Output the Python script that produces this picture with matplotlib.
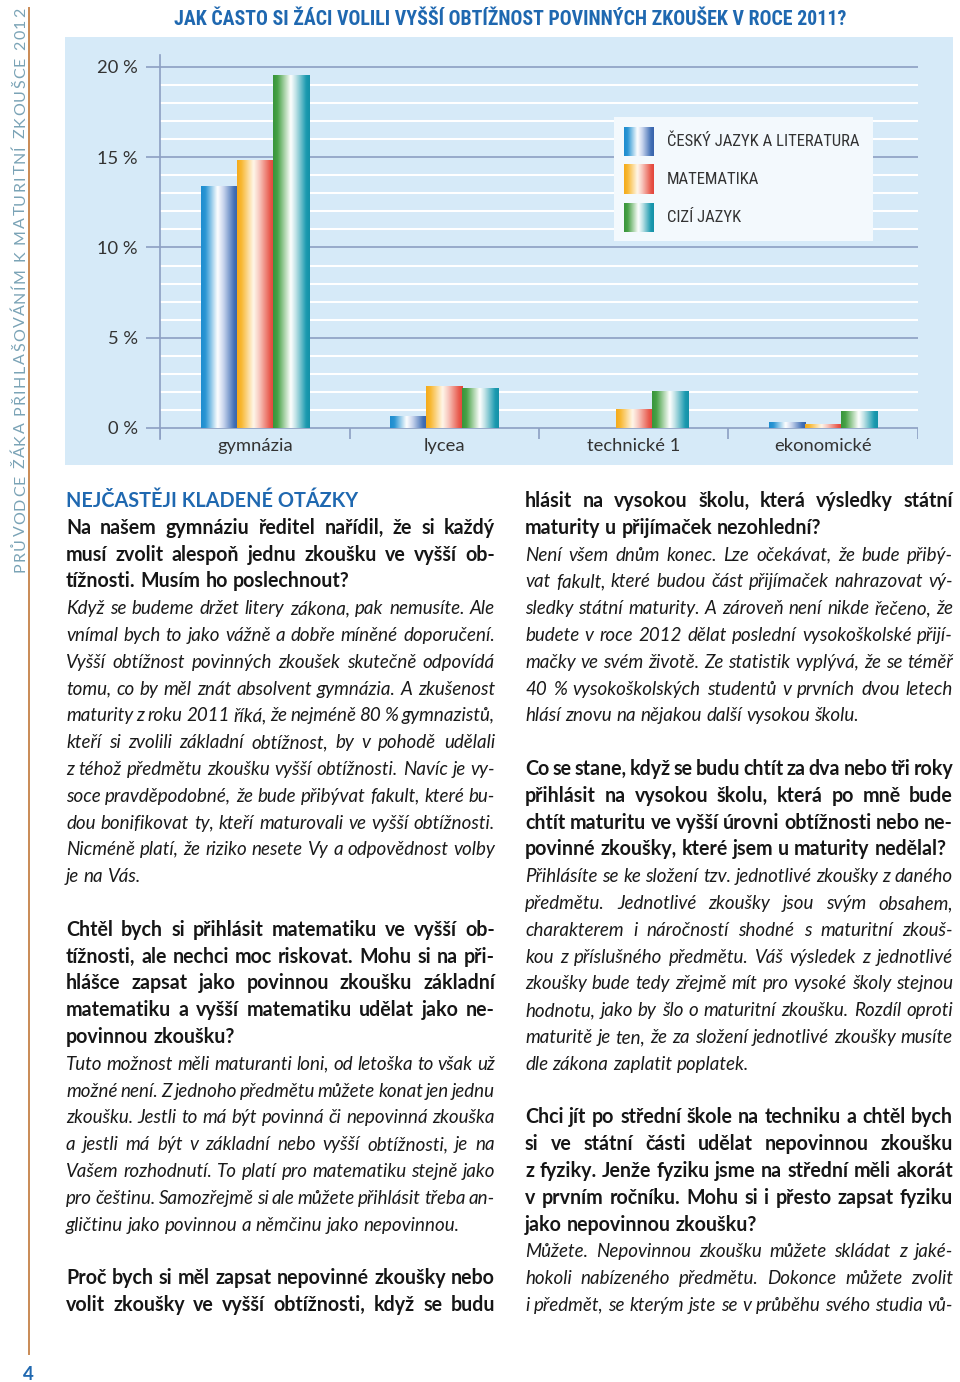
import numpy as np
import matplotlib
matplotlib.use('Agg')
from matplotlib import pyplot as plt
from matplotlib import font_manager as fm
from matplotlib import transforms as mtransforms
from matplotlib.colors import LinearSegmentedColormap
from matplotlib.patches import Rectangle
from matplotlib.lines import Line2D

# data
categories = ['gymnázia', 'lycea', 'technické 1', 'ekonomické']
series_names = ['ČESKÝ JAZYK A LITERATURA', 'MATEMATIKA', 'CIZÍ JAZYK']
cesky = [13.4, 0.65, 0.0, 0.3]
matematika = [14.8, 2.3, 1.0, 0.2]
cizi = [19.5, 2.2, 2.0, 0.9]
y_ticks = [0, 5, 10, 15, 20]
y_labels = ['0 %', '5 %', '10 %', '15 %', '20 %']
title = 'JAK ČASTO SI ŽÁCI VOLILI VYŠŠÍ OBTÍŽNOST POVINNÝCH ZKOUŠEK V ROCE 2011?'

names = {f.name for f in fm.fontManager.ttflist}


def pick(*cands):
    for c in cands:
        if c in names:
            return c
    return 'DejaVu Sans'


BODY = pick('Lato', 'Open Sans', 'Noto Sans', 'DejaVu Sans')
COND = pick('Roboto Condensed', 'Liberation Sans Narrow', 'Open Sans Condensed', 'Lato')

W, H = 960, 1382
fig = plt.figure(figsize=(W / 100, H / 100), dpi=100)
fig.patch.set_facecolor('white')
# pixel coordinates measured from the top-left corner
T = mtransforms.Affine2D().scale(1 / 100, -1 / 100).translate(0, H / 100) + fig.dpi_scale_trans
r = fig.canvas.get_renderer()

blue_txt = '#1f68b0'
grid_c = '#8c9fc3'

# chart panel
fig.add_artist(Rectangle((65, 37), 888, 428, transform=T, fc='#d6eaf8', ec='none', zorder=0))

ax = fig.add_axes([160 / W, 1 - 439 / H, (918 - 160) / W, (439 - 55) / H])
ax.set_facecolor('none')
ylim = (-0.61, 20.66)

cmaps = [
    LinearSegmentedColormap.from_list('cj', [(0, '#1d8ccf'), (0.12, '#2b96d4'), (0.45, '#ffffff'),
                                            (0.62, '#c5d2ec'), (0.9, '#4270b5'), (1, '#3862aa')]),
    LinearSegmentedColormap.from_list('ma', [(0, '#f4aa1a'), (0.12, '#f8b832'), (0.45, '#fff7ea'),
                                            (0.6, '#f8c9c0'), (0.9, '#e8584b'), (1, '#e2443a')]),
    LinearSegmentedColormap.from_list('cz', [(0, '#37953b'), (0.12, '#47a146'), (0.48, '#ffffff'),
                                            (0.62, '#bfe2e6'), (0.9, '#1b9ab0'), (1, '#1491a7')]),
]
grad = np.linspace(0, 1, 256).reshape(1, -1)

x = np.arange(len(categories)) + 0.5
bw = 0.19
for j, vals in enumerate([cesky, matematika, cizi]):
    bars = ax.bar(x + (j - 1) * bw, vals, bw, color='none', zorder=3)
    for b in bars:
        if b.get_height() <= 0:
            continue
        ax.imshow(grad, cmap=cmaps[j], aspect='auto', interpolation='bicubic', zorder=3,
                  extent=(b.get_x(), b.get_x() + b.get_width(), 0, b.get_height()))

minor = [v for v in range(1, 21) if v % 5]
ax.hlines(minor, 0, 4, color='white', lw=1.5, zorder=1)
ax.hlines(y_ticks, 0, 4, color=grid_c, lw=1.2, zorder=1.5)
ax.vlines(np.arange(len(categories) + 1), ylim[0], 0, color=grid_c, lw=1.2, zorder=1.5)

ax.set_xlim(0, 4)
ax.set_ylim(*ylim)
ax.set_xticks([])
ax.set_yticks(y_ticks, y_labels)
ax.tick_params(axis='y', length=10, width=1.2, color=grid_c, pad=6, labelsize=13.2, labelcolor='#333333')
for lbl in ax.get_yticklabels():
    lbl.set_fontfamily(BODY)
for sp in ['top', 'right', 'bottom']:
    ax.spines[sp].set_visible(False)
ax.spines['left'].set_color(grid_c)
ax.spines['left'].set_linewidth(1.2)
for xc, cat in zip(x, categories):
    ax.text(xc, -0.98, cat, ha='center', va='center', fontsize=13.2, family=BODY,
            color='#333333', clip_on=False)

# legend


def ay(py):
    return 1 - (py - 55) / 384


def axx(px):
    return (px - 160) / 758


ax.add_patch(Rectangle((axx(614), ay(241)), axx(873) - axx(614), ay(117) - ay(241),
                       transform=ax.transAxes, fc='#f3f9fd', ec='none', zorder=4))
sw = [(127, 156), (164, 194), (203, 232)]
leg_txt = []
for j, (name, (t0, t1)) in enumerate(zip(series_names, sw)):
    ax.imshow(grad, cmap=cmaps[j], aspect='auto', interpolation='bicubic', zorder=5,
              extent=(axx(624), axx(654), ay(t1), ay(t0)), transform=ax.transAxes)
    leg_txt.append(ax.text(axx(667), ay((t0 + t1) / 2), name, transform=ax.transAxes, va='center',
                           ha='left', fontsize=12, family=COND, color='#333333', zorder=6))
lw_ = leg_txt[0].get_window_extent(r).width
if lw_ > 196:
    for t in leg_txt:
        t.set_fontsize(12 * 196 / lw_)
ax.set_xlim(0, 4)
ax.set_ylim(*ylim)


def fit(px, py, s, width, size, **kw):
    t = fig.text(px, py, s, transform=T, fontsize=size, **kw)
    w = t.get_window_extent(r).width
    if w > width:
        t.set_fontsize(size * width / w)
    return t


fit(510, 25, title, 675, 15.5, ha='center', va='baseline', family=COND,
    weight='semibold', color=blue_txt)

# side bar
side = 'PRŮVODCE ŽÁKA PŘIHLAŠOVÁNÍM K MATURITNÍ ZKOUŠCE 2012'
chars = [fig.text(0, 0, c, transform=T, fontsize=11.5, family=BODY, color='#7aa3b6',
                  rotation=90, rotation_mode='anchor', ha='left', va='baseline') for c in side]
cw = []
for c, t in zip(side, chars):
    if c == ' ':
        cw.append(4.0)
    else:
        cw.append(t.get_window_extent(r).height)
track = (564 - sum(cw)) / (len(side) - 1)
yy = 572
for t, w in zip(chars, cw):
    t.set_position((25, yy))
    yy -= w + track
fig.add_artist(Line2D([29, 29], [8, 1354], transform=T, color='#c98a55', lw=1.4))
fig.text(28, 1380, '4', transform=T, ha='center', va='baseline', fontsize=13.5, family=BODY,
         weight='bold', color=blue_txt)

# text columns
left = [
    ('NEJČASTĚJI KLADENÉ OTÁZKY', 'h', False),
    ('Na našem gymnáziu ředitel nařídil, že si každý', 'b', True),
    ('musí zvolit alespoň jednu zkoušku ve vyšší ob-', 'b', True),
    ('tížnosti. Musím ho poslechnout?', 'b', False),
    ('Když se budeme držet litery zákona, pak nemusíte. Ale', 'i', True),
    ('vnímal bych to jako vážně a dobře míněné doporučení.', 'i', True),
    ('Vyšší obtížnost povinných zkoušek skutečně odpovídá', 'i', True),
    ('tomu, co by měl znát absolvent gymnázia. A zkušenost', 'i', True),
    ('maturity z roku 2011 říká, že nejméně 80 % gymnazistů,', 'i', True),
    ('kteří si zvolili základní obtížnost, by v pohodě udělali', 'i', True),
    ('z téhož předmětu zkoušku vyšší obtížnosti. Navíc je vy-', 'i', True),
    ('soce pravděpodobné, že bude přibývat fakult, které bu-', 'i', True),
    ('dou bonifikovat ty, kteří maturovali ve vyšší obtížnosti.', 'i', True),
    ('Nicméně platí, že riziko nesete Vy a odpovědnost volby', 'i', True),
    ('je na Vás.', 'i', False),
    None,
    ('Chtěl bych si přihlásit matematiku ve vyšší ob-', 'b', True),
    ('tížnosti, ale nechci moc riskovat. Mohu si na při-', 'b', True),
    ('hlášce zapsat jako povinnou zkoušku základní', 'b', True),
    ('matematiku a vyšší matematiku udělat jako ne-', 'b', True),
    ('povinnou zkoušku?', 'b', False),
    ('Tuto možnost měli maturanti loni, od letoška to však už', 'i', True),
    ('možné není. Z jednoho předmětu můžete konat jen jednu', 'i', True),
    ('zkoušku. Jestli to má být povinná či nepovinná zkouška', 'i', True),
    ('a jestli má být v základní nebo vyšší obtížnosti, je na', 'i', True),
    ('Vašem rozhodnutí. To platí pro matematiku stejně jako', 'i', True),
    ('pro češtinu. Samozřejmě si ale můžete přihlásit třeba an-', 'i', True),
    ('gličtinu jako povinnou a němčinu jako nepovinnou.', 'i', False),
    None,
    ('Proč bych si měl zapsat nepovinné zkoušky nebo', 'b', True),
    ('volit zkoušky ve vyšší obtížnosti, když se budu', 'b', True),
]
right = [
    ('hlásit na vysokou školu, která výsledky státní', 'b', True),
    ('maturity u přijímaček nezohlední?', 'b', False),
    ('Není všem dnům konec. Lze očekávat, že bude přibý-', 'i', True),
    ('vat fakult, které budou část přijímaček nahrazovat vý-', 'i', True),
    ('sledky státní maturity. A zároveň není nikde řečeno, že', 'i', True),
    ('budete v roce 2012 dělat poslední vysokoškolské přijí-', 'i', True),
    ('mačky ve svém životě. Ze statistik vyplývá, že se téměř', 'i', True),
    ('40 % vysokoškolských studentů v prvních dvou letech', 'i', True),
    ('hlásí znovu na nějakou další vysokou školu.', 'i', False),
    None,
    ('Co se stane, když se budu chtít za dva nebo tři roky', 'b', True),
    ('přihlásit na vysokou školu, která po mně bude', 'b', True),
    ('chtít maturitu ve vyšší úrovni obtížnosti nebo ne-', 'b', True),
    ('povinné zkoušky, které jsem u maturity nedělal?', 'b', False),
    ('Přihlásíte se ke složení tzv. jednotlivé zkoušky z daného', 'i', True),
    ('předmětu. Jednotlivé zkoušky jsou svým obsahem,', 'i', True),
    ('charakterem i náročností shodné s maturitní zkouš-', 'i', True),
    ('kou z příslušného předmětu. Váš výsledek z jednotlivé', 'i', True),
    ('zkoušky bude tedy zřejmě mít pro vysoké školy stejnou', 'i', True),
    ('hodnotu, jako by šlo o maturitní zkoušku. Rozdíl oproti', 'i', True),
    ('maturitě je ten, že za složení jednotlivé zkoušky musíte', 'i', True),
    ('dle zákona zaplatit poplatek.', 'i', False),
    None,
    ('Chci jít po střední škole na techniku a chtěl bych', 'b', True),
    ('si ve státní části udělat nepovinnou zkoušku', 'b', True),
    ('z fyziky. Jenže fyziku jsme na střední měli akorát', 'b', True),
    ('v prvním ročníku. Mohu si i přesto zapsat fyziku', 'b', True),
    ('jako nepovinnou zkoušku?', 'b', False),
    ('Můžete. Nepovinnou zkoušku můžete skládat z jaké-', 'i', True),
    ('hokoli nabízeného předmětu. Dokonce můžete zvolit', 'i', True),
    ('i předmět, se kterým jste se v průběhu svého studia vů-', 'i', True),
]

STY = {
    'b': dict(family=BODY, weight='bold', color='#161616'),
    'i': dict(family=BODY, style='italic', color='#1a1a1a'),
    'h': dict(family=BODY, weight='bold', color=blue_txt),
}
base = {'b': 14.3, 'i': 14.0}


def wid(s, style, size):
    t = fig.text(0, 0, s, transform=T, fontsize=size, **STY[style])
    w = t.get_window_extent(r).width
    t.remove()
    return w


space = {k: wid('n n', k, base[k]) - wid('nn', k, base[k]) for k in base}

# shrink a style if its widest line does not fit the column
cols = [(left, 66, 495), (right, 525, 953)]
for st in base:
    worst = 1.0
    for lines, x0, x1 in cols:
        for ln in lines:
            if ln is None or ln[1] != st:
                continue
            words = ln[0].split(' ')
            nat = sum(wid(w_, st, base[st]) for w_ in words) + space[st] * 0.6 * (len(words) - 1)
            worst = max(worst, nat / (x1 - x0))
    base[st] = base[st] / worst
    space[st] = space[st] / worst


def put_line(s, x0, x1, yb, st, justify):
    words = s.split(' ')
    ts = [fig.text(0, 0, w_, transform=T, fontsize=base[st], va='baseline', ha='left', **STY[st])
          for w_ in words]
    ws = [t.get_window_extent(r).width for t in ts]
    gap = space[st]
    if justify and len(words) > 1:
        gap = (x1 - x0 - sum(ws)) / (len(words) - 1)
    xx = x0
    for t, w_ in zip(ts, ws):
        t.set_position((xx, yb))
        xx += w_ + gap


for lines, x0, x1 in cols:
    for k, ln in enumerate(lines):
        if ln is None:
            continue
        yb = 507 + 26.8 * k
        if ln[1] == 'h':
            fit(x0, yb, ln[0], 292, 15, ha='left', va='baseline', **STY['h'])
        else:
            put_line(ln[0], x0, x1, yb, ln[1], ln[2])

plt.savefig('out.png', dpi=100)
